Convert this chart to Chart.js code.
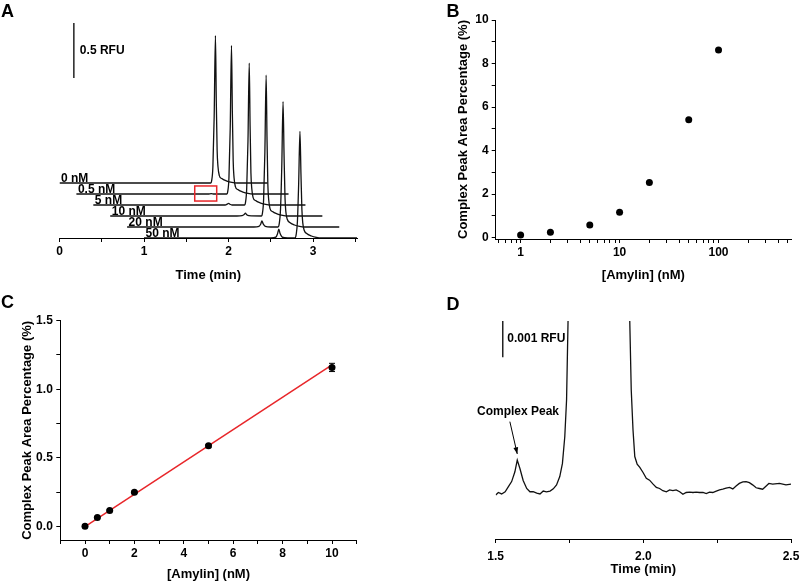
<!DOCTYPE html>
<html>
<head>
<meta charset="utf-8">
<script src="https://cdn.jsdelivr.net/npm/chart.js@4.4.0/dist/chart.umd.min.js"></script>
<style>
  body { margin: 0; background: #fff; width: 800px; height: 582px; overflow: hidden; position: relative; }
  canvas { position: absolute; }
</style>
</head>
<body>
<canvas id="pa" width="400" height="290" style="left:0;top:0"></canvas>
<canvas id="pb" width="400" height="290" style="left:400px;top:0"></canvas>
<canvas id="pc" width="400" height="292" style="left:0;top:290px"></canvas>
<canvas id="pd" width="400" height="292" style="left:400px;top:290px"></canvas>
<script>
// ---- panel A: electropherograms, [time (min), signal (RFU) above the trace's own baseline]
const aLabels = ['0 nM', '0.5 nM', '5 nM', '10 nM', '20 nM', '50 nM'];
const aShiftX = [0, 0.2, 0.4, 0.6, 0.8, 1.0];   // waterfall offset (min)
const aShiftY = [0.5, 0.4, 0.3, 0.2, 0.1, 0];   // waterfall offset (RFU)
const trace0 = [[0,0],[1.79,0],[1.80,0.02],[1.815,0.15],[1.83,0.6],[1.845,1.34],[1.855,0.75],[1.865,0.3],[1.875,0.15],[1.89,0.07],[1.92,0.04],[1.98,0.018],[2.04,0.005],[2.1,0],[2.46,0]];
const trace05 = [[0,0],[1.56,0],[1.595,0.004],[1.63,0],[1.78,0],[1.79,0.02],[1.805,0.15],[1.82,0.6],[1.835,1.35],[1.845,0.75],[1.855,0.3],[1.865,0.15],[1.88,0.07],[1.91,0.04],[1.97,0.018],[2.03,0.005],[2.09,0],[2.51,0]];
const trace5 = [[0,0],[1.56,0],[1.585,0.008],[1.60,0.015],[1.615,0.007],[1.64,0],[1.79,0],[1.80,0.02],[1.815,0.15],[1.83,0.58],[1.845,1.29],[1.855,0.72],[1.865,0.29],[1.875,0.15],[1.89,0.07],[1.92,0.04],[1.98,0.018],[2.04,0.005],[2.1,0],[2.51,0]];
const trace10 = [[0,0],[1.50,0],[1.56,0.004],[1.585,0.014],[1.60,0.025],[1.615,0.012],[1.64,0.003],[1.79,0],[1.80,0.02],[1.815,0.15],[1.83,0.58],[1.845,1.28],[1.855,0.72],[1.865,0.29],[1.875,0.15],[1.89,0.07],[1.92,0.04],[1.98,0.018],[2.04,0.005],[2.1,0],[2.51,0]];
const trace20 = [[0,0],[1.50,0],[1.56,0.006],[1.58,0.025],[1.595,0.055],[1.61,0.028],[1.635,0.006],[1.70,0],[1.785,0],[1.80,0.03],[1.815,0.16],[1.83,0.55],[1.845,1.14],[1.857,0.65],[1.868,0.27],[1.878,0.14],[1.895,0.07],[1.925,0.04],[1.98,0.018],[2.04,0.005],[2.1,0],[2.51,0]];
const trace50 = [[0,0],[1.50,0],[1.56,0.008],[1.58,0.04],[1.595,0.08],[1.61,0.04],[1.635,0.008],[1.70,0],[1.785,0],[1.80,0.03],[1.815,0.15],[1.83,0.5],[1.845,0.97],[1.857,0.58],[1.868,0.26],[1.878,0.14],[1.895,0.07],[1.925,0.04],[1.98,0.018],[2.04,0.005],[2.1,0],[2.52,0]];
const aTicks = [0, 0.5, 1, 1.5, 2, 2.5, 3, 3.5];
const aTickLabels = [0, 1, 2, 3];

// ---- panel B: complex peak area vs amylin (log x)
const bConc = [1, 2, 5, 10, 20, 50, 100];
const bPct = [0.12, 0.25, 0.58, 1.17, 2.54, 5.42, 8.62];
const bXTicks = [0.6,0.7,0.8,0.9,1,2,3,4,5,6,7,8,9,10,20,30,40,50,60,70,80,90,100,200,300,400,500];
const bXTickLabels = [1, 10, 100];
const bYTicks = [0,1,2,3,4,5,6,7,8,9,10];
const bYTickLabels = [0, 2, 4, 6, 8, 10];

// ---- panel C: linear range
const cConc = [0, 0.5, 1, 2, 5, 10];
const cPct = [0.0, 0.064, 0.115, 0.248, 0.587, 1.159];
const cErr = [0.004, 0.006, 0.006, 0.008, 0.01, 0.03];
const cFitX = [0, 10];
const cFitY = [-0.002, 1.178];
const cXTicks = [-1,0,1,2,3,4,5,6,7,8,9,10,11];
const cXTickLabels = [0, 2, 4, 6, 8, 10];
const cYTicks = [0, 0.25, 0.5, 0.75, 1.0, 1.25, 1.5];
const cYTickLabels = [0, 0.5, 1.0, 1.5];

// ---- panel D: zoom on complex peak, [time (min), signal (0.001 RFU)]
const traceD = [[1.50,1.21],[1.509,1.28],[1.520,1.24],[1.532,1.30],[1.543,1.44],[1.554,1.58],[1.565,1.85],[1.573,2.17],
  [1.582,1.94],[1.593,1.61],[1.605,1.39],[1.616,1.30],[1.627,1.30],[1.639,1.26],[1.650,1.24],[1.661,1.32],[1.672,1.30],
  [1.684,1.32],[1.695,1.38],[1.706,1.49],[1.717,1.72],[1.726,2.08],[1.734,2.82],[1.740,3.83],[1.745,6.0],[1.85,1300],
  [1.954,6.0],[1.959,4.10],[1.965,3.00],[1.971,2.27],[1.979,2.06],[1.988,1.97],[1.999,1.83],[2.010,1.67],[2.021,1.62],
  [2.033,1.51],[2.044,1.42],[2.055,1.39],[2.066,1.33],[2.078,1.30],[2.089,1.35],[2.100,1.33],[2.111,1.35],[2.123,1.30],
  [2.134,1.23],[2.145,1.28],[2.157,1.29],[2.168,1.28],[2.179,1.29],[2.190,1.28],[2.202,1.28],[2.213,1.25],[2.224,1.29],
  [2.235,1.28],[2.247,1.32],[2.258,1.35],[2.269,1.37],[2.280,1.40],[2.292,1.42],[2.303,1.38],[2.314,1.46],[2.325,1.53],
  [2.337,1.57],[2.348,1.58],[2.359,1.55],[2.370,1.49],[2.382,1.41],[2.393,1.39],[2.404,1.37],[2.416,1.46],[2.425,1.53],
  [2.438,1.51],[2.461,1.53],[2.483,1.49],[2.50,1.51]];
const dTicks = [1.5, 1.75, 2.0, 2.25, 2.5];
const dTickLabels = [1.5, 2.0, 2.5];

const FONT = "'Liberation Sans', Arial, sans-serif";
const tickFont = { family: FONT, size: 12, weight: 'bold' };
const titleFont = { family: FONT, size: 13, weight: 'bold' };
const RED = 'rgb(232,38,42)';

const fixTicks = vals => s => { s.ticks = vals.map(v => ({ value: v })); };
const fitH = h => s => { s.height = h; s.paddingLeft = 0; s.paddingRight = 0; };
const fitW = w => s => { s.width = w; s.paddingTop = 0; s.paddingBottom = 0; };

function axis(min, max, ticks, labels, fmt, fit, pad) {
  return {
    min, max,
    afterBuildTicks: fixTicks(ticks),
    afterFit: fit,
    grid: { drawOnChartArea: false, drawTicks: true, tickLength: 4, tickColor: '#000', tickWidth: 1 },
    border: { display: true, color: '#000', width: 1 },
    ticks: {
      font: tickFont, color: '#000', autoSkip: false, maxRotation: 0, padding: pad,
      callback: v => labels.includes(v) ? fmt(v) : ''
    }
  };
}

function title(text, padding) {
  return { display: true, text, font: titleFont, color: '#000', padding };
}

function panelLetter(letter, x, y) {
  return {
    id: 'letter' + letter,
    afterDraw(chart) {
      const ctx = chart.ctx;
      ctx.save();
      ctx.font = `bold 18px ${FONT}`;
      ctx.fillStyle = '#000';
      ctx.textBaseline = 'alphabetic';
      ctx.fillText(letter, x, y);
      ctx.restore();
    }
  };
}

const baseOpts = {
  responsive: false,
  animation: false,
  events: [],
  devicePixelRatio: 1,
  plugins: { legend: { display: false }, tooltip: { enabled: false } }
};

// ================= Panel A =================
const aTraces = [trace0, trace05, trace5, trace10, trace20, trace50];
new Chart(document.getElementById('pa'), {
  type: 'line',
  data: {
    datasets: aTraces.map((tr, i) => ({
      data: tr.map(p => ({ x: p[0] + aShiftX[i], y: p[1] + aShiftY[i] })),
      borderColor: '#111', borderWidth: 1.3, pointRadius: 0,
      cubicInterpolationMode: 'monotone', fill: false
    }))
  },
  options: {
    ...baseOpts,
    layout: { padding: { left: 59.5, right: 43, top: 18, bottom: 0 } },
    scales: {
      x: { type: 'linear', ...axis(0, 3.52, aTicks, aTickLabels, v => String(v), fitH(52), 2),
           title: title('Time (min)', { top: 0, bottom: 7 }) },
      y: { type: 'linear', min: 0, max: 2.0, display: false }
    }
  },
  plugins: [panelLetter('A', 1, 16.7), {
    id: 'aNotes',
    afterDatasetsDraw(chart) {
      const { ctx, scales: { x, y } } = chart;
      ctx.save();
      ctx.font = `bold 12px ${FONT}`;
      ctx.fillStyle = '#000';
      ctx.textBaseline = 'alphabetic';
      aLabels.forEach((lab, i) => {
        ctx.fillText(lab, x.getPixelForValue(aShiftX[i]) + 1.5, y.getPixelForValue(aShiftY[i]) - 1.5);
      });
      // 0.5 RFU scale bar
      const bx = x.getPixelForValue(0.17);
      ctx.strokeStyle = '#000';
      ctx.lineWidth = 1.3;
      ctx.beginPath();
      ctx.moveTo(bx, y.getPixelForValue(1.455));
      ctx.lineTo(bx, y.getPixelForValue(1.955));
      ctx.stroke();
      ctx.textBaseline = 'middle';
      ctx.fillText('0.5 RFU', bx + 6, y.getPixelForValue(1.705));
      // red box marking the zoomed region
      ctx.strokeStyle = RED;
      ctx.lineWidth = 1.5;
      const x0 = x.getPixelForValue(1.60), x1 = x.getPixelForValue(1.86);
      const y0 = y.getPixelForValue(0.473), y1 = y.getPixelForValue(0.336);
      ctx.strokeRect(x0, y0, x1 - x0, y1 - y0);
      ctx.restore();
    }
  }]
});

// ================= Panel B =================
new Chart(document.getElementById('pb'), {
  type: 'scatter',
  data: {
    datasets: [{
      data: bConc.map((c, i) => ({ x: c, y: bPct[i] })),
      backgroundColor: '#000', borderWidth: 0, pointRadius: 3.5
    }]
  },
  options: {
    ...baseOpts,
    layout: { padding: { left: 56, right: 9, top: 20, bottom: 0 } },
    scales: {
      x: { type: 'logarithmic', ...axis(0.56, 540, bXTicks, bXTickLabels, v => String(v), fitH(51), 2),
           title: title('[Amylin] (nM)', { top: 0, bottom: 7 }) },
      y: { type: 'linear', ...axis(-0.06, 10, bYTicks, bYTickLabels, v => String(v), fitW(39.7), 3),
           title: title('Complex Peak Area Percentage (%)', { top: 0, bottom: 0 }) }
    }
  },
  plugins: [panelLetter('B', 46.5, 16.7)]
});

// ================= Panel C =================
new Chart(document.getElementById('pc'), {
  type: 'scatter',
  data: {
    datasets: [{
      data: cConc.map((c, i) => ({ x: c, y: cPct[i] })),
      backgroundColor: '#000', borderWidth: 0, pointRadius: 3.5
    }, {
      type: 'line',
      data: cFitX.map((c, i) => ({ x: c, y: cFitY[i] })),
      borderColor: RED, borderWidth: 1.5, pointRadius: 0, fill: false
    }]
  },
  options: {
    ...baseOpts,
    layout: { padding: { left: 19.2, right: 43.3, top: 30.7, bottom: 0 } },
    scales: {
      x: { type: 'linear', ...axis(-1, 11, cXTicks, cXTickLabels, v => String(v), fitH(42), 2),
           title: title('[Amylin] (nM)', { top: 0, bottom: 0 }) },
      y: { type: 'linear', ...axis(-0.1, 1.5, cYTicks, cYTickLabels, v => v.toFixed(1), fitW(41.1), 3.5),
           title: title('Complex Peak Area Percentage (%)', { top: 0, bottom: 0 }) }
    }
  },
  plugins: [panelLetter('C', 1, 18.3), {
    id: 'cErr',
    afterDatasetsDraw(chart) {
      const { ctx, scales: { x, y } } = chart;
      ctx.save();
      ctx.strokeStyle = '#000';
      ctx.lineWidth = 1;
      cConc.forEach((c, i) => {
        const px = x.getPixelForValue(c);
        const lo = y.getPixelForValue(cPct[i] - cErr[i]);
        const hi = y.getPixelForValue(cPct[i] + cErr[i]);
        ctx.beginPath();
        ctx.moveTo(px, lo); ctx.lineTo(px, hi);
        ctx.moveTo(px - 3, lo); ctx.lineTo(px + 3, lo);
        ctx.moveTo(px - 3, hi); ctx.lineTo(px + 3, hi);
        ctx.stroke();
      });
      ctx.restore();
    }
  }]
});

// ================= Panel D =================
new Chart(document.getElementById('pd'), {
  type: 'line',
  data: {
    datasets: [{
      data: traceD.map(p => ({ x: p[0], y: p[1] })),
      borderColor: '#111', borderWidth: 1.3, pointRadius: 0, tension: 0, fill: false
    }]
  },
  options: {
    ...baseOpts,
    layout: { padding: { left: 95.7, right: 9, top: 31, bottom: 0 } },
    scales: {
      x: { type: 'linear', ...axis(1.5, 2.5, dTicks, dTickLabels, v => v.toFixed(1), fitH(43), 6),
           title: title('Time (min)', { top: 0, bottom: 5 }) },
      y: { type: 'linear', min: 0, max: 6, display: false }
    }
  },
  plugins: [panelLetter('D', 46.5, 20), {
    id: 'dNotes',
    afterDatasetsDraw(chart) {
      const { ctx, scales: { x, y } } = chart;
      ctx.save();
      ctx.strokeStyle = '#000';
      ctx.fillStyle = '#000';
      // 0.001 RFU scale bar
      const bx = x.getPixelForValue(1.524);
      ctx.lineWidth = 1.3;
      ctx.beginPath();
      ctx.moveTo(bx, y.getPixelForValue(5));
      ctx.lineTo(bx, y.getPixelForValue(6));
      ctx.stroke();
      ctx.font = `bold 12px ${FONT}`;
      ctx.textBaseline = 'middle';
      ctx.fillText('0.001 RFU', bx + 4.5, y.getPixelForValue(5.5));
      // complex peak label and arrow
      ctx.textAlign = 'center';
      ctx.fillText('Complex Peak', x.getPixelForValue(1.5755), y.getPixelForValue(3.5));
      const sx = x.getPixelForValue(1.548), sy = y.getPixelForValue(3.23);
      const tx = x.getPixelForValue(1.573), ty = y.getPixelForValue(2.34);
      ctx.lineWidth = 1;
      ctx.beginPath();
      ctx.moveTo(sx, sy); ctx.lineTo(tx, ty);
      ctx.stroke();
      const ang = Math.atan2(ty - sy, tx - sx);
      ctx.beginPath();
      ctx.moveTo(tx, ty);
      ctx.lineTo(tx - 7 * Math.cos(ang - 0.35), ty - 7 * Math.sin(ang - 0.35));
      ctx.lineTo(tx - 7 * Math.cos(ang + 0.35), ty - 7 * Math.sin(ang + 0.35));
      ctx.closePath();
      ctx.fill();
      ctx.restore();
    }
  }]
});
</script>
</body>
</html>
